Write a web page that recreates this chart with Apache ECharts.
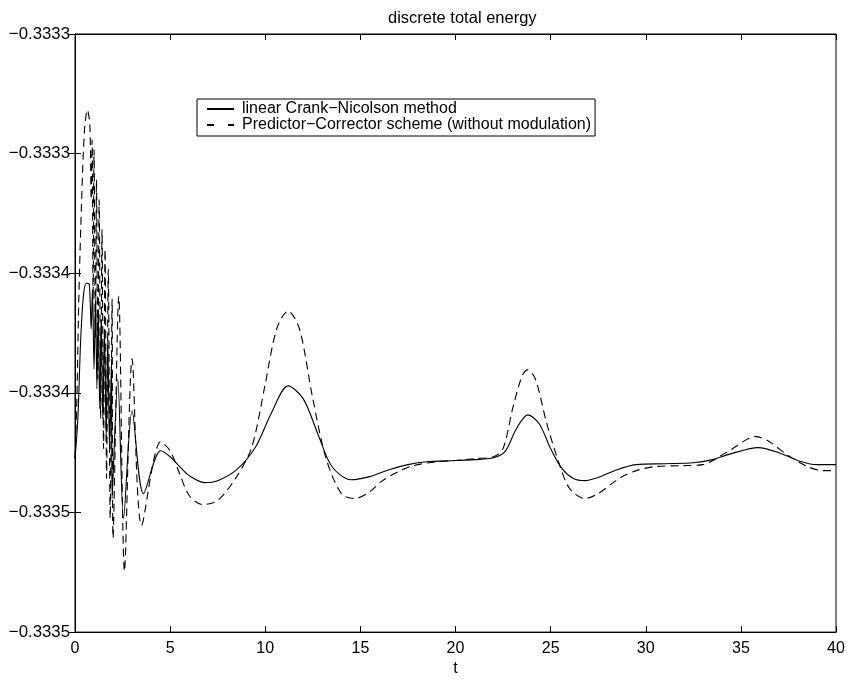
<!DOCTYPE html>
<html>
<head>
<meta charset="utf-8">
<script src="https://cdn.jsdelivr.net/npm/echarts@6/dist/echarts.min.js"></script>
<style>html,body{margin:0;padding:0;background:#fff}#c{width:850px;height:682px}</style>
</head>
<body>
<div id="c"></div>
<script>
var titleText = 'discrete total energy';
var xName = 't';
var seriesNames = ['linear Crank\u2212Nicolson method', 'Predictor\u2212Corrector scheme (without modulation)'];
var xTicks = [0, 5, 10, 15, 20, 25, 30, 35, 40];
var yTickLabels = ['\u22120.3335', '\u22120.3335', '\u22120.3334', '\u22120.3334', '\u22120.3333', '\u22120.3333'];
var yMin = -0.3335, yMax = -0.33325, yStep = 0.00005;

var cnT = [0,0.15,0.3,0.45,0.6,0.75,0.85,0.92,1.0,1.08,1.15,1.22,1.3,1.38,1.46,1.55,1.64,1.72,1.82,1.92,1.95,2.25,2.55,3.0,3.6,4.5,5.0,5.5,6.0,6.8,7.5,8.5,9.5,10.3,11.2,12.0,12.8,13.5,14.5,15.5,16.5,17.5,18.5,20,21,22,22.6,23.2,23.8,24.4,25.0,25.6,26.2,26.8,27.5,28.5,29.5,31,32.5,33.5,34.5,35.9,37,38.2,39,40];
var cnE = [-0.3334275,-0.3334108,-0.3333775,-0.3333588,-0.3333542,-0.3333546,-0.3333733,-0.3333567,-0.33339,-0.3333608,-0.3333983,-0.333365,-0.3334067,-0.3333692,-0.3334108,-0.3333733,-0.3334192,-0.3333775,-0.3334233,-0.3333858,-0.3334442,-0.3333942,-0.3334525,-0.3334075,-0.3334421,-0.3334242,-0.3334267,-0.3334308,-0.3334346,-0.3334375,-0.3334367,-0.3334321,-0.3334225,-0.3334088,-0.3333971,-0.3334025,-0.3334179,-0.3334308,-0.3334363,-0.333435,-0.3334321,-0.33343,-0.3334288,-0.3334283,-0.3334279,-0.3334271,-0.3334246,-0.333415,-0.3334092,-0.3334129,-0.3334233,-0.3334317,-0.3334358,-0.3334367,-0.3334354,-0.3334321,-0.33343,-0.3334296,-0.3334292,-0.3334279,-0.3334254,-0.3334229,-0.333425,-0.3334288,-0.33343,-0.33343];

var pcT = [0,0.1,0.2,0.35,0.5,0.65,0.78,0.85,0.9,0.95,1.0,1.07,1.13,1.2,1.27,1.35,1.42,1.5,1.58,1.66,1.75,1.85,1.95,2.0,2.3,2.6,3.0,3.5,4.5,5.0,5.5,6.0,6.7,7.5,8.5,9.3,10.0,10.6,11.2,11.8,12.5,13.2,14.0,14.7,15.5,16.1,17,17.8,19,20,21,22,22.5,23.0,23.5,23.8,24.2,24.8,25.5,26.0,26.8,27.5,28.6,29.5,30.5,32,33,34.3,35.8,36.5,37.5,38.5,39.3,40];
var pcE = [-0.3334275,-0.3334025,-0.3333608,-0.3333192,-0.33329,-0.3332817,-0.3332879,-0.3333192,-0.3332942,-0.3333608,-0.3332983,-0.3333775,-0.3333108,-0.3333942,-0.3333192,-0.3334108,-0.3333317,-0.3334233,-0.33334,-0.3334358,-0.3333483,-0.3334525,-0.3333608,-0.3334608,-0.3333596,-0.3334746,-0.3333858,-0.3334554,-0.3334204,-0.3334242,-0.3334338,-0.3334429,-0.3334467,-0.333445,-0.333435,-0.3334225,-0.3333963,-0.3333733,-0.3333658,-0.3333733,-0.3334025,-0.3334275,-0.3334421,-0.3334442,-0.3334413,-0.3334371,-0.3334329,-0.3334304,-0.3334288,-0.3334283,-0.3334275,-0.3334267,-0.3334233,-0.3334067,-0.3333929,-0.3333904,-0.3333942,-0.3334129,-0.3334308,-0.33344,-0.3334442,-0.3334421,-0.3334358,-0.3334325,-0.3334308,-0.3334304,-0.33343,-0.3334246,-0.3334183,-0.3334204,-0.3334263,-0.3334308,-0.3334325,-0.3334325];

function zip(a, b) { return a.map(function (v, i) { return [v, b[i]]; }); }

var FONT = '"Liberation Sans", Arial, Helvetica, sans-serif';
var chart = echarts.init(document.getElementById('c'));
var yLabel = function (v) {
  var i = Math.round((v - yMin) / yStep);
  return yTickLabels[i] !== undefined ? yTickLabels[i] : '';
};
function tick() { return { show: true, inside: true, length: 6, lineStyle: { color: '#000', width: 1 } }; }
function line() { return { show: true, lineStyle: { color: '#000', width: 1 } }; }
chart.setOption({
  animation: false,
  backgroundColor: '#fff',
  title: {
    text: titleText, left: 383, top: 5,
    textStyle: { fontFamily: FONT, fontSize: 16.5, fontWeight: 'normal', color: '#000' }
  },
  grid: { left: 75, right: 14, top: 34, bottom: 48, show: true, borderColor: '#000', borderWidth: 1 },
  legend: {
    orient: 'vertical', left: 197, top: 99,
    data: [
      { name: seriesNames[0], lineStyle: { type: 'solid' } },
      { name: seriesNames[1], lineStyle: { type: [7, 14] } }
    ],
    itemWidth: 27, itemHeight: 14, itemGap: 0,
    padding: [2, 4, 3, 9],
    borderColor: '#000', borderWidth: 1, backgroundColor: '#fff',
    itemStyle: { opacity: 0 },
    textStyle: { fontFamily: FONT, fontSize: 16, color: '#000', padding: [0, 0, 0, 3] }
  },
  xAxis: [{
    type: 'value', min: 0, max: 40, interval: 5, position: 'bottom',
    name: xName, nameLocation: 'middle', nameGap: 26,
    nameTextStyle: { fontFamily: FONT, fontSize: 16, color: '#000' },
    axisLine: line(), axisTick: tick(), splitLine: { show: false },
    axisLabel: { fontFamily: FONT, fontSize: 16, color: '#000', margin: 8 }
  }, {
    type: 'value', min: 0, max: 40, interval: 5, position: 'top',
    axisLine: line(), axisTick: tick(), splitLine: { show: false }, axisLabel: { show: false }
  }],
  yAxis: [{
    type: 'value', min: yMin, max: yMax, interval: yStep, position: 'left',
    axisLine: line(), axisTick: tick(), splitLine: { show: false },
    axisLabel: { fontFamily: FONT, fontSize: 16.8, color: '#000', margin: 5, formatter: yLabel }
  }, {
    type: 'value', min: yMin, max: yMax, interval: yStep, position: 'right',
    axisLine: line(), axisTick: tick(), splitLine: { show: false }, axisLabel: { show: false }
  }],
  series: [{
    name: seriesNames[0], type: 'line', smooth: 0.3, showSymbol: false, symbol: 'none',
    data: zip(cnT, cnE), lineStyle: { color: '#000', width: 1.1, type: 'solid' },
    itemStyle: { color: '#000' }
  }, {
    name: seriesNames[1], type: 'line', smooth: 0.3, showSymbol: false, symbol: 'none',
    data: zip(pcT, pcE), lineStyle: { color: '#000', width: 1.1, type: [8, 5] },
    itemStyle: { color: '#000' }
  }]
});
</script>
</body>
</html>
